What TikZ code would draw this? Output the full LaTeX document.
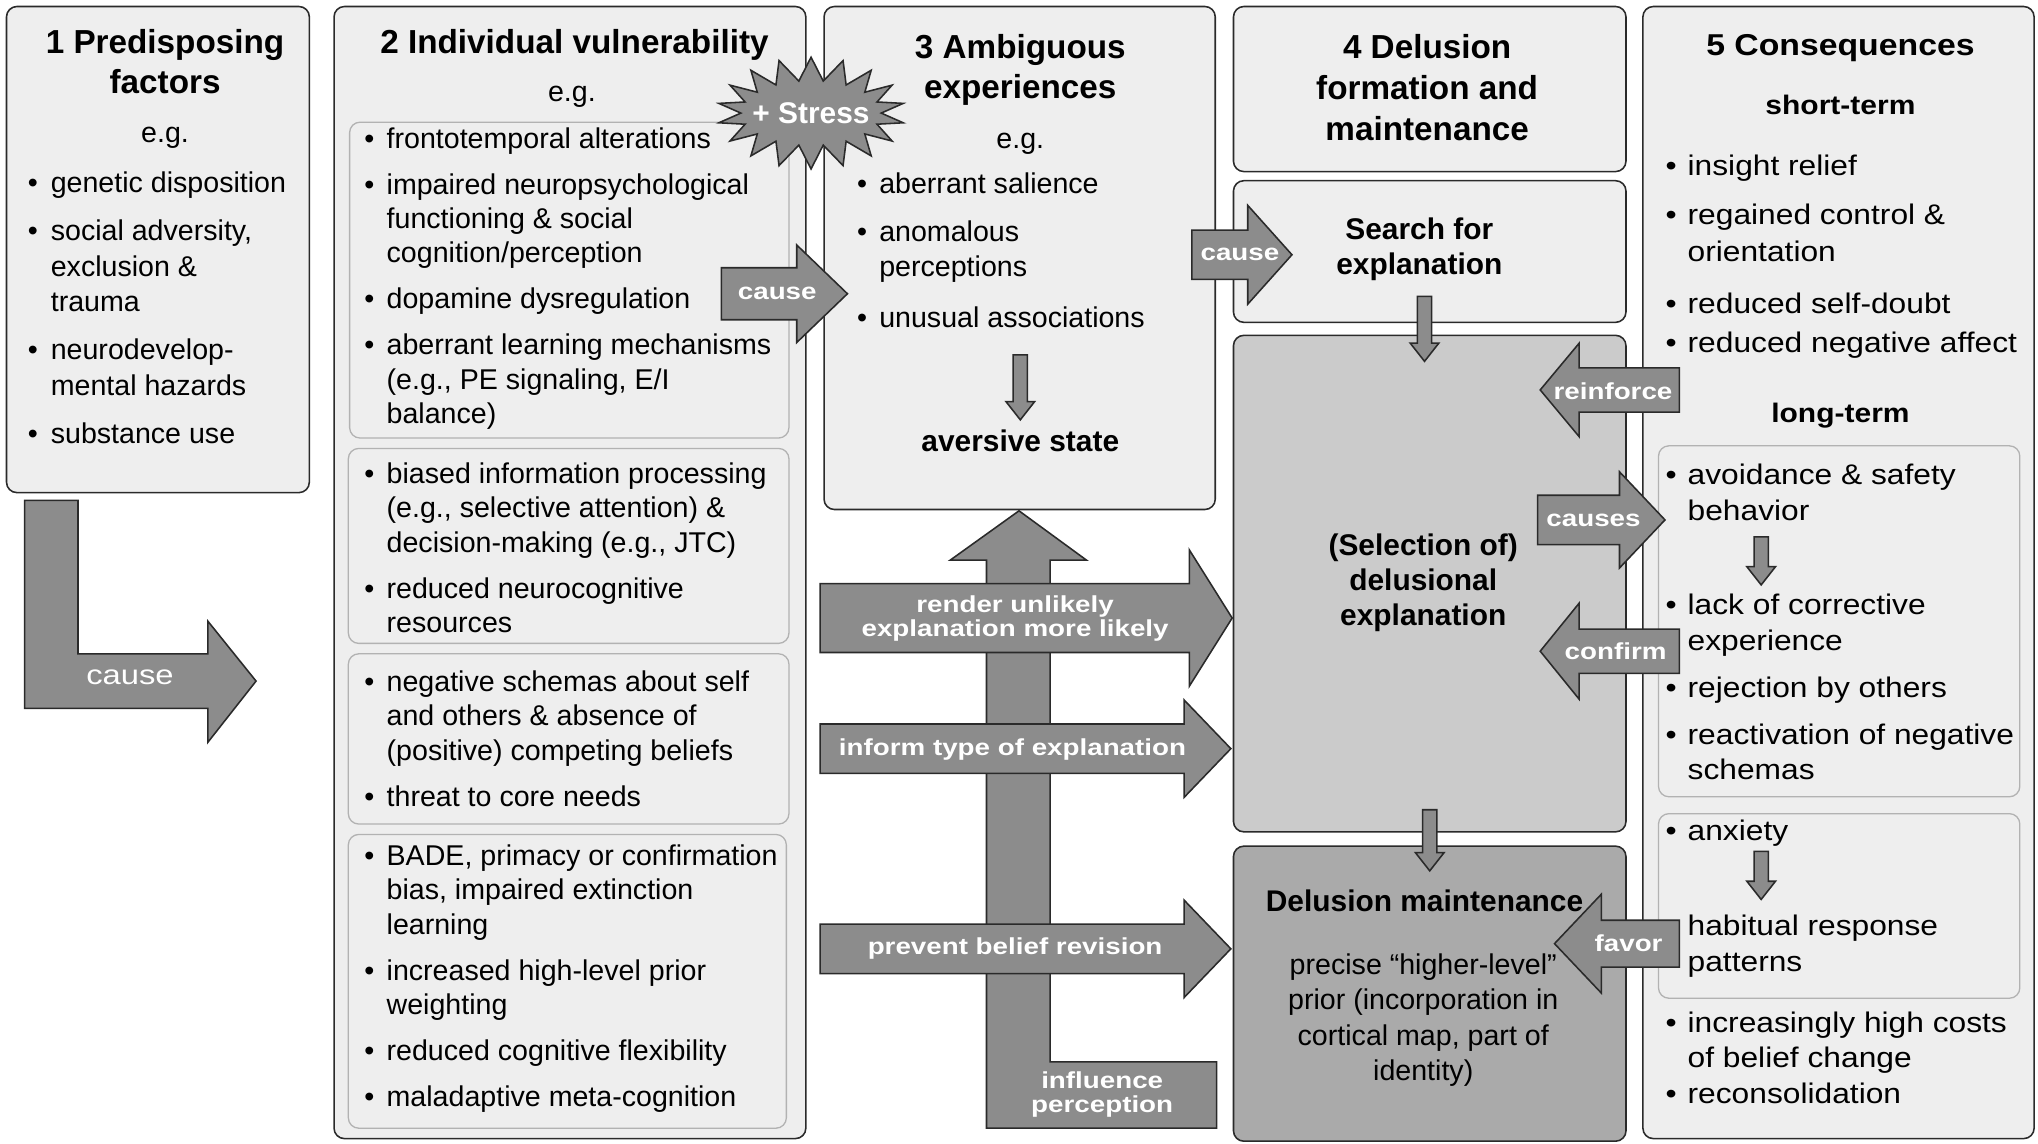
\documentclass[tikz,border=0pt]{standalone}
\usepackage{fontspec}
\setmainfont{Liberation Sans}
\newfontfamily\consfont{Liberation Sans}[FakeStretch=1.12]
\newfontfamily\arrowfont{Liberation Sans}[FakeStretch=1.2]
\usetikzlibrary{shapes.symbols}

\definecolor{boxgray}{HTML}{EEEEEE}
\definecolor{selgray}{HTML}{CBCBCB}
\definecolor{maintgray}{HTML}{AAAAAA}
\definecolor{arrowgray}{HTML}{8C8C8C}
\definecolor{linegray}{HTML}{2A2A2A}

\newcommand{\bul}{\textbullet &}
\newcommand{\blist}[2][4.7pt]{\begin{tabular}[t]{@{}l@{\hspace{#1}}l@{}}#2\end{tabular}}
\newcommand{\ctext}[1]{\begin{tabular}[t]{@{}c@{}}#1\end{tabular}}
% block arrows: tail, head base, tip, centre line, half shaft, half head
\newcommand{\harrow}[6]{\filldraw[blockarrow] (#1,#4-#5) -- (#2,#4-#5) -- (#2,#4-#6) -- (#3,#4) -- (#2,#4+#6) -- (#2,#4+#5) -- (#1,#4+#5) -- cycle;}
\newcommand{\varrow}[6]{\filldraw[blockarrow] (#4-#5,#1) -- (#4-#5,#2) -- (#4-#6,#2) -- (#4,#3) -- (#4+#6,#2) -- (#4+#5,#2) -- (#4+#5,#1) -- cycle;}

\begin{document}
\begin{tikzpicture}[x=0.5pt, y=-0.5pt,
  box/.style={draw=linegray, fill=boxgray, rounded corners=4pt, line width=0.6pt},
  subbox/.style={draw=black!30, fill=boxgray, rounded corners=4pt, line width=0.5pt},
  blockarrow/.style={draw=linegray, fill=arrowgray, line width=0.6pt},
  listtext/.style={inner sep=0pt, anchor=base west, font=\fontsize{11}{13.2}\selectfont},
  constext/.style={inner sep=0pt, anchor=base west, font=\consfont\fontsize{10.9}{13.75}\selectfont},
  headtext/.style={inner sep=0pt, anchor=base, font=\bfseries\fontsize{12.8}{15.5}\selectfont},
  boldtext/.style={inner sep=0pt, anchor=base, font=\bfseries\fontsize{11.5}{13.5}\selectfont},
  plaintext/.style={inner sep=0pt, anchor=base, font=\fontsize{11}{13.5}\selectfont},
  arrowlabel/.style={inner sep=0pt, text=white, align=center, font=\arrowfont\bfseries\fontsize{8.9}{9}\selectfont}]

  \useasboundingbox (0,0) rectangle (1568,880);

  % frames
  \draw[box] (5,5) rectangle (238,379);
  \draw[box] (257,5) rectangle (620,876);
  \draw[subbox] (269,94) rectangle (607,337);
  \draw[subbox] (268,345) rectangle (607,495);
  \draw[subbox] (268,503) rectangle (607,634);
  \draw[subbox] (268,642) rectangle (605,868);
  \draw[box] (634,5) rectangle (935,392);
  \draw[box] (949,5) rectangle (1251,132);
  \draw[box] (949,139) rectangle (1251,248);
  \draw[box, fill=selgray] (949,258) rectangle (1251,640);
  \draw[box, fill=maintgray] (949,651) rectangle (1251,878);
  \draw[box] (1264,5) rectangle (1565,876);
  \draw[subbox] (1276,343) rectangle (1554,613);
  \draw[subbox] (1276,626) rectangle (1554,768);

  % 1 predisposing factors
  \node[headtext] (t1) at (127,41) {\ctext{1 Predisposing\\factors}};
  \node[plaintext] (eg1) at (127,110) {e.g.};
  \node[listtext, font=\fontsize{11}{13.6}\selectfont] (l1) at (21,148) {\blist[5pt]{\bul genetic disposition\\[5pt]
    \bul social adversity,\\ & exclusion \&\\ & trauma\\[5pt]
    \bul neurodevelop-\\ & mental hazards\\[5pt]
    \bul substance use}};

  % 2 individual vulnerability
  \node[headtext] (t2) at (442,41) {2 Individual vulnerability};
  \node[plaintext] (eg2) at (440,78) {e.g.};
  \node[listtext] (l2a) at (280,114) {\blist{\bul frontotemporal alterations\\[4.5pt]
    \bul impaired neuropsychological\\ & functioning \& social\\ & cognition/perception\\[4.5pt]
    \bul dopamine dysregulation\\[4.5pt]
    \bul aberrant learning mechanisms\\ & (e.g., PE signaling, E/I\\ & balance)}};
  \node[listtext] (l2b) at (280,372) {\blist{\bul biased information processing\\ & (e.g., selective attention) \&\\ & decision-making (e.g., JTC)\\[4.5pt]
    \bul reduced neurocognitive\\ & resources}};
  \node[listtext] (l2c) at (280,532) {\blist{\bul negative schemas about self\\ & and others \& absence of\\ & (positive) competing beliefs\\[4.5pt]
    \bul threat to core needs}};
  \node[listtext] (l2d) at (280,666) {\blist{\bul BADE, primacy or confirmation\\ & bias, impaired extinction\\ & learning\\[4.5pt]
    \bul increased high-level prior\\ & weighting\\[4.5pt]
    \bul reduced cognitive flexibility\\[4.5pt]
    \bul maladaptive meta-cognition}};

  % 3 ambiguous experiences
  \node[headtext] (t3) at (785,45) {\ctext{3 Ambiguous\\experiences}};
  \node[plaintext] (eg3) at (785,114) {e.g.};
  \node[listtext, font=\fontsize{11}{13.5}\selectfont] (l3) at (659,149) {\blist{\bul aberrant salience\\[5pt]
    \bul anomalous\\ & perceptions\\[6pt]
    \bul unusual associations}};
  \node[boldtext] (aversive) at (785,347) {aversive state};

  % 4 delusion formation and maintenance
  \node[headtext, font=\bfseries\fontsize{12.8}{15.75}\selectfont] (t4) at (1098,45) {\ctext{4 Delusion\\formation and\\maintenance}};
  \node[boldtext] (search) at (1092,184) {\ctext{Search for\\explanation}};
  \node[boldtext] (select) at (1095,427) {\ctext{(Selection of)\\delusional\\explanation}};
  \node[boldtext] (maint) at (1096,701) {Delusion maintenance};
  \node[plaintext] (prior) at (1095,750) {\ctext{precise “higher-level”\\prior (incorporation in\\cortical map, part of\\identity)}};

  % 5 consequences
  \node[headtext, font=\consfont\bfseries\fontsize{11.6}{14}\selectfont] (t5) at (1416,43) {5 Consequences};
  \node[boldtext, font=\consfont\bfseries\fontsize{10.3}{12}\selectfont] (short) at (1416,88) {short-term};
  \node[constext, font=\consfont\fontsize{10.9}{14}\selectfont] (l5) at (1281,135) {\blist[4.25pt]{\bul insight relief\\[5pt]
    \bul regained control \&\\ & orientation\\[6pt]
    \bul reduced self-doubt\\[1pt]
    \bul reduced negative affect}};
  \node[boldtext, font=\consfont\bfseries\fontsize{10.3}{12}\selectfont] (long) at (1416,325) {long-term};
  \node[constext] (l5a) at (1281,373) {\blist[4.25pt]{\bul avoidance \& safety\\ & behavior\\[22.5pt]
    \bul lack of corrective\\ & experience\\[4.25pt]
    \bul rejection by others\\[4.25pt]
    \bul reactivation of negative\\ & schemas}};
  \node[constext] (l5b) at (1281,647) {\blist[4.25pt]{\bul anxiety\\[22.75pt]
    & habitual response\\ & patterns}};
  \node[constext] (l5c) at (1281,794) {\blist[4.25pt]{\bul increasingly high costs\\ & of belief change\\
    \bul reconsolidation}};

  % arrows
  \filldraw[blockarrow] (19,385) -- (60,385) -- (60,503) -- (160,503) -- (160,478) -- (197,524) -- (160,571) -- (160,545) -- (19,545) -- cycle;
  \node[arrowlabel, font=\arrowfont\fontsize{10.5}{11}\selectfont] (c1) at (100,521) {cause};
  \harrow{555}{613}{652}{226}{20}{37.5}
  \node[arrowlabel] (c2) at (598,226) {cause};
  \harrow{917}{960}{994}{196}{19}{38}
  \node[arrowlabel] (c3) at (954,196) {cause};

  \filldraw[blockarrow] (759,868) -- (759,431) -- (731,431) -- (784,393) -- (836,431) -- (808,431) -- (808,817) -- (936,817) -- (936,868) -- cycle;
  \node[arrowlabel, font=\arrowfont\bfseries\fontsize{8.9}{9.25}\selectfont] (infl) at (848,842) {influence\\perception};

  \harrow{631}{915}{948}{475.5}{26.5}{52.5}
  \node[arrowlabel] (render) at (781,476) {render unlikely\\explanation more likely};
  \harrow{631}{911}{947}{576}{19}{37.5}
  \node[arrowlabel] (inform) at (779,577) {inform type of explanation};
  \harrow{631}{911}{947}{730}{19}{37.5}
  \node[arrowlabel] (prevent) at (781,730) {prevent belief revision};

  \harrow{1292}{1215}{1185}{300}{17}{36}
  \node[arrowlabel] (reinf) at (1241,301) {reinforce};
  \harrow{1183}{1246}{1281}{400}{19}{37}
  \node[arrowlabel] (causes) at (1226,400) {causes};
  \harrow{1292}{1215}{1185}{501}{17}{37}
  \node[arrowlabel] (confirm) at (1243,501) {confirm};
  \harrow{1292}{1232}{1196}{726}{18}{38}
  \node[arrowlabel] (favor) at (1253,726) {favor};

  \varrow{273}{309}{323}{785}{5.5}{11}
  \varrow{228}{264}{278}{1096}{5.5}{11}
  \varrow{623}{656}{670}{1100}{5.5}{11}
  \varrow{413}{436}{450}{1355}{5.5}{11}
  \varrow{655}{678}{692}{1355}{5.5}{11}

  % stress burst
  \node[starburst, starburst points=18, starburst point height=9pt, random starburst=0,
    minimum width=72pt, minimum height=43pt, inner sep=0pt, fill=arrowgray, draw=linegray,
    line width=0.6pt] (stress) at (624,87) {};
  \node[inner sep=0pt, text=white, font=\bfseries\fontsize{11.5}{12}\selectfont] (stresstext) at (stress.center) {+ Stress};
\end{tikzpicture}
\end{document}
